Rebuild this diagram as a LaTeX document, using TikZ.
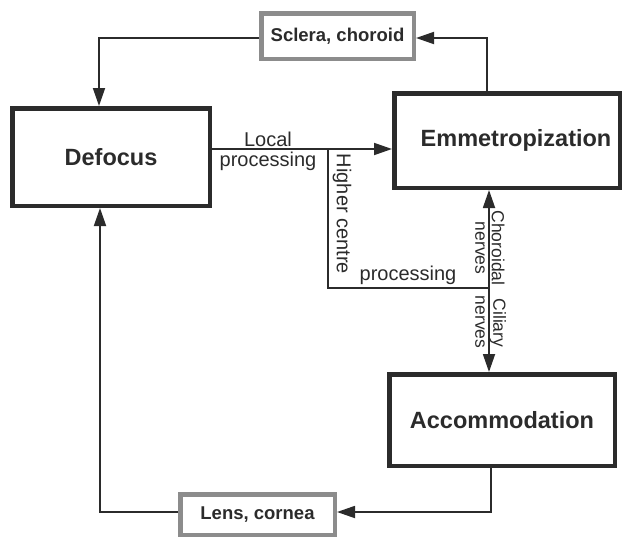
\documentclass[tikz,border=0pt]{standalone}
\usepackage{fontspec}
\setmainfont{Liberation Sans}
\usetikzlibrary{arrows.meta}

\definecolor{inkgray}{HTML}{2B2B2B}
\definecolor{framegray}{HTML}{8C8C8C}

\tikzset{
    mainbox/.style={draw=inkgray, line width=4.5pt, text=inkgray, inner sep=0pt,
        font=\fontsize{23.5}{28}\selectfont\bfseries},
    tissuebox/.style={draw=framegray, line width=4.5pt, fill=white, text=inkgray, inner sep=0pt,
        font=\fontsize{18.5}{22}\selectfont\bfseries},
    link/.style={draw=inkgray, line width=1.8pt},
    tip/.style={-{Triangle[length=18pt,width=12pt]}},
    tips/.style={{Triangle[length=18pt,width=12pt]}-{Triangle[length=18pt,width=12pt]}},
    lbl/.style={text=inkgray, inner sep=0pt, font=\fontsize{20}{24}\selectfont},
    nervelbl/.style={text=inkgray, inner sep=0pt, rotate=-90, font=\fontsize{17.5}{21}\selectfont},
}

\begin{document}
\begin{tikzpicture}[x=1pt,y=-1pt]
    \useasboundingbox (0,0) rectangle (623,538);

    % Boxes
    \node[mainbox, minimum width=197.5pt, minimum height=97.5pt] (defocus) at (111,157) {Defocus};
    \node[mainbox, minimum width=225.5pt, minimum height=94.5pt] (emm) at (507,140.5) {\hspace*{18pt}Emmetropization};
    \node[mainbox, minimum width=225.5pt, minimum height=91.5pt] (accom) at (502,420) {Accommodation};
    \node[tissuebox, minimum width=152.5pt, minimum height=45.5pt] (sclera) at (337.5,36) {Sclera, choroid};
    \node[tissuebox, minimum width=154.5pt, minimum height=40.5pt] (lens) at (257.5,514.5) {Lens, cornea};

    \coordinate (emmtop) at (487,38);
    \coordinate (defocustop) at (99,38);
    \coordinate (split) at (328,149);
    \coordinate (hcorner) at (328,288);
    \coordinate (hjoin) at (489,288);
    \coordinate (accbot) at (491,512);
    \coordinate (defocusbot) at (100,512);

    % Outer loop
    \draw[link,tip] (emm.north -| emmtop) -- (emmtop) -- (sclera.east |- emmtop);
    \draw[link,tip] (sclera.west |- defocustop) -- (defocustop) -- (defocus.north -| defocustop);
    \draw[link,tip] (accom.south -| accbot) -- (accbot) -- (lens.east |- accbot);
    \draw[link,tip] (lens.west |- defocusbot) -- (defocusbot) -- (defocus.south -| defocusbot);

    % Processing paths
    \draw[link,tip] (defocus.east |- split) -- (emm.west |- split);
    \draw[link] (split) -- (hcorner) -- (hjoin);
    \draw[link,tips] (emm.south -| hjoin) -- (accom.north -| hjoin);

    % Labels
    \node[lbl, anchor=base] (local) at (268,146) {Local};
    \node[lbl, anchor=base] (localproc) at (268,166) {processing};
    \node[lbl, rotate=-90] (higher) at (342,214) {Higher centre};
    \node[lbl, anchor=base] (higherproc) at (408,280) {processing};
    \node[nervelbl] (chor) at (498,248) {Choroidal};
    \node[nervelbl] (chornerves) at (480,248) {nerves};
    \node[nervelbl] (cil) at (498,323) {Ciliary};
    \node[nervelbl] (cilnerves) at (480,322) {nerves};
\end{tikzpicture}
\end{document}
